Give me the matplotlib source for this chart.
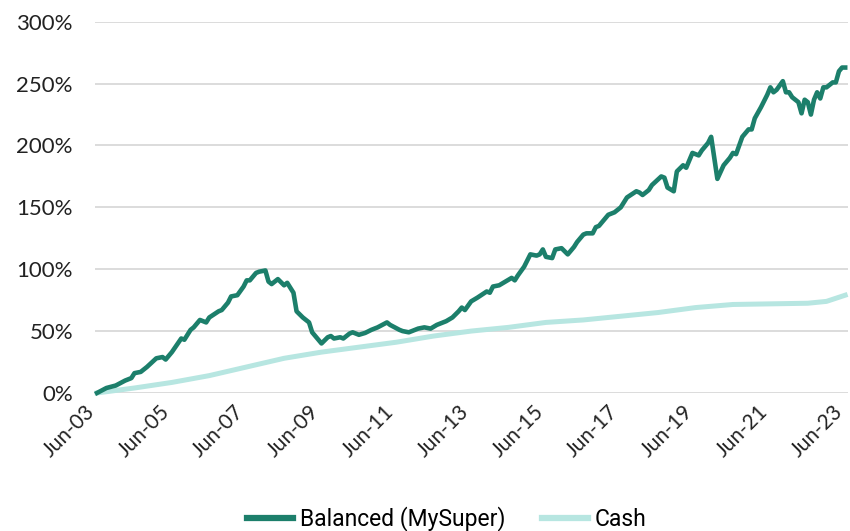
import numpy as np
import matplotlib
matplotlib.use("Agg")
import matplotlib.pyplot as plt
import matplotlib.transforms as mtransforms

# months since Jun-03, cumulative return (%)
balanced_months = [0, 3, 6, 9, 11, 12, 14, 16, 19, 21, 22, 24, 27, 28, 30, 31, 33, 35, 36, 39,
                   40, 42, 43, 45, 47, 48, 49, 51, 52, 54, 55, 56, 58, 60, 61, 63, 64, 66, 68, 69,
                   72, 74, 75, 76, 78, 79, 81, 82, 84, 86, 88, 90, 93, 94, 97, 98, 100, 103, 105, 107,
                   109, 112, 114, 116, 117, 118, 120, 122, 125, 126, 127, 129, 133, 134, 135, 137, 139, 141, 142, 143,
                   144, 146, 147, 149, 151, 153, 154, 156, 157, 159, 160, 161, 164, 166, 168, 170, 173, 174, 175, 177,
                   178, 181, 182, 183, 185, 186, 188, 189, 190, 191, 193, 194, 196, 197, 199, 201, 203, 204, 205, 207,
                   209, 210, 211, 213, 215, 216, 217, 218, 220, 221, 222, 223, 225, 226, 227, 228, 229, 230, 231, 232,
                   233, 234, 236, 237, 238, 239, 240]
balanced_values = [0, 4, 6, 10, 12, 16, 17, 21, 28, 29, 27, 33, 44, 43, 51, 53, 59, 57, 61, 66,
                   67, 73, 78, 79, 86, 91, 91, 97, 98, 99, 90, 88, 92, 87, 89, 81, 66, 61, 57, 49,
                   40, 45, 46, 44, 45, 44, 48, 49, 47, 48.5, 51, 53, 57, 55, 51, 50, 49, 52, 53, 52,
                   55, 58, 61, 66, 69, 67, 74, 77, 82, 81, 86, 87, 93, 91, 95, 102, 112, 111, 112, 116,
                   110, 109, 116, 117, 112, 118, 122, 128, 129, 129, 134, 135, 144, 146, 150, 158, 163, 162, 160, 164,
                   168, 175, 174, 166, 163, 179, 184, 182, 188, 194, 192, 196, 202, 207, 173, 184, 190, 194, 193, 207,
                   213, 213, 222, 231, 241, 247, 243, 245, 252, 243, 243, 239, 235, 226, 237, 235, 225, 237, 243, 238,
                   247, 247, 251, 251, 260, 263, 263]

cash_months = [0, 12, 24, 36, 48, 60, 72, 84, 96, 108, 120, 132, 144, 156, 168, 180, 192, 204, 216, 228, 234, 240]
cash_values = [0, 4, 8.5, 14, 21, 28, 33, 37, 41, 46, 50, 53, 57, 59, 62, 65, 69, 71.5, 72, 72.5, 74, 79]

tick_months = list(range(0, 241, 24))
tick_labels = ["Jun-03", "Jun-05", "Jun-07", "Jun-09", "Jun-11", "Jun-13",
               "Jun-15", "Jun-17", "Jun-19", "Jun-21", "Jun-23"]

DARK = "#1c7f6b"
LIGHT = "#b7e6e1"

fig = plt.figure(figsize=(8.5, 5.31), dpi=100)
ax = fig.add_axes([0.112, 0.26, 0.886, 0.699])

ax.plot(balanced_months, balanced_values, color=DARK, lw=3.3, label="Balanced (MySuper)",
        clip_on=False, zorder=3, solid_joinstyle="round")
ax.plot(cash_months, cash_values, color=LIGHT, lw=3.6, label="Cash", clip_on=False, zorder=2)

ax.set_xlim(-0.6, 241)
ax.set_ylim(0, 300)
ax.set_yticks(range(0, 301, 50))
ax.set_yticklabels([f"{v}%" for v in range(0, 301, 50)], fontfamily="Lato", fontsize=16)
ax.set_xticks(tick_months)
ax.set_xticklabels(tick_labels, rotation=45, ha="right", va="center", rotation_mode="anchor",
                   fontfamily="Lato", fontsize=15)
ax.tick_params(axis="y", length=0, pad=16, colors="#222222")
ax.tick_params(axis="x", length=0, pad=11, colors="#222222")
# nudge the rotated labels a little left so the last one stays inside
shift = mtransforms.ScaledTranslation(-4 / 72, 0, fig.dpi_scale_trans)
for lbl in ax.get_xticklabels():
    lbl.set_transform(lbl.get_transform() + shift)
ax.grid(axis="y", color="#d9d9d9", lw=1.3)
ax.set_axisbelow(True)
for s in ax.spines.values():
    s.set_visible(False)

leg = fig.legend(loc="center", bbox_to_anchor=(0.526, 0.023), ncol=2, frameon=False,
                 prop={"family": "Roboto", "size": 16.5}, handlelength=2.0, handletextpad=0.3,
                 columnspacing=1.6)
for line in leg.get_lines():
    line.set_linewidth(4.5)

fig.savefig("out.png", dpi=100)
